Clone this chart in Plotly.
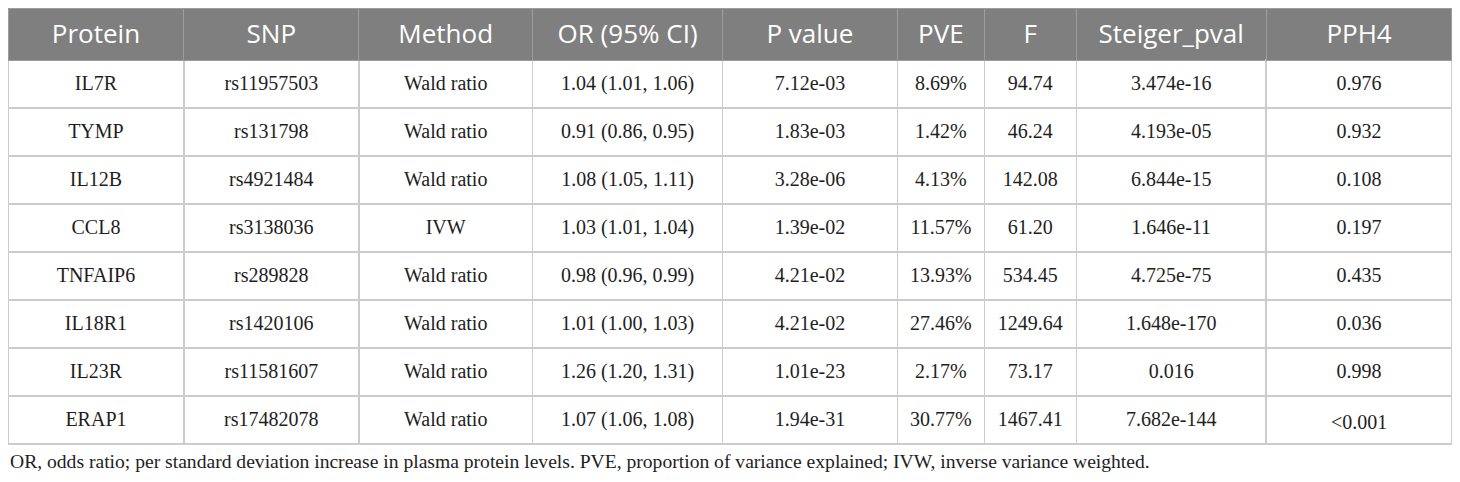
import plotly.graph_objects as go

headers = ["Protein", "SNP", "Method", "OR (95% CI)", "P value", "PVE", "F", "Steiger_pval", "PPH4"]
protein = ["IL7R", "TYMP", "IL12B", "CCL8", "TNFAIP6", "IL18R1", "IL23R", "ERAP1"]
snp = ["rs11957503", "rs131798", "rs4921484", "rs3138036", "rs289828", "rs1420106", "rs11581607", "rs17482078"]
method = ["Wald ratio", "Wald ratio", "Wald ratio", "IVW", "Wald ratio", "Wald ratio", "Wald ratio", "Wald ratio"]
or_ci = ["1.04 (1.01, 1.06)", "0.91 (0.86, 0.95)", "1.08 (1.05, 1.11)", "1.03 (1.01, 1.04)",
         "0.98 (0.96, 0.99)", "1.01 (1.00, 1.03)", "1.26 (1.20, 1.31)", "1.07 (1.06, 1.08)"]
p_value = ["7.12e-03", "1.83e-03", "3.28e-06", "1.39e-02", "4.21e-02", "4.21e-02", "1.01e-23", "1.94e-31"]
pve = ["8.69%", "1.42%", "4.13%", "11.57%", "13.93%", "27.46%", "2.17%", "30.77%"]
f_stat = ["94.74", "46.24", "142.08", "61.20", "534.45", "1249.64", "73.17", "1467.41"]
steiger = ["3.474e-16", "4.193e-05", "6.844e-15", "1.646e-11", "4.725e-75", "1.648e-170", "0.016", "7.682e-144"]
pph4 = ["0.976", "0.932", "0.108", "0.197", "0.435", "0.036", "0.998", "<0.001"]

caption = ("OR, odds ratio; per standard deviation increase in plasma protein levels. "
           "PVE, proportion of variance explained; IVW, inverse variance weighted.")

columns = [protein, snp, method, or_ci, p_value, pve, f_stat, steiger, pph4]

# page body has an 8px margin, so the figure is a bit smaller than the window
W, H = 1452, 474
OFF = 8
col_edges = [7, 183, 358, 532, 722, 897, 984, 1076, 1266, 1452]
col_widths = [b - a for a, b in zip(col_edges[:-1], col_edges[1:])]
x_dom = [max(0, col_edges[0] - OFF) / W, (col_edges[-1] - OFF) / W]
top = 7 - OFF
HEAD_H, ROW_H = 52, 48

# grid: fills and lines only
fig = go.Figure(go.Table(
    columnwidth=col_widths,
    header=dict(
        values=[""] * len(headers),
        fill_color="#7e7f7e",
        line_color="#9c9d9c",
        line_width=1,
        height=HEAD_H,
    ),
    cells=dict(
        values=[[""] * len(protein) for _ in columns],
        fill_color="white",
        line_color="#cccccc",
        line_width=1.5,
        height=ROW_H,
    ),
    domain=dict(x=x_dom, y=[0, 1 - max(0, top) / H]),
))

# text layer, nudged down so the text sits in the middle of each cell
fig.add_trace(go.Table(
    columnwidth=col_widths,
    header=dict(
        values=headers,
        fill_color="rgba(0,0,0,0)",
        line_color="rgba(0,0,0,0)",
        align="center",
        height=HEAD_H,
        font=dict(family="Open Sans", size=26, color="white"),
    ),
    cells=dict(
        values=columns,
        fill_color="rgba(0,0,0,0)",
        line_color="rgba(0,0,0,0)",
        align="center",
        height=ROW_H,
        font=dict(family="Liberation Serif", size=20, color="#1e1e1e"),
    ),
    domain=dict(x=x_dom, y=[0, 1 - (top + 8) / H]),
))

fig.add_annotation(
    text=caption, xref="paper", yref="paper", x=x_dom[0], y=1 - (461 - OFF) / H,
    xanchor="left", yanchor="middle", showarrow=False,
    font=dict(family="Liberation Serif", size=19.6, color="#1e1e1e"),
)

fig.update_layout(
    width=W, height=H,
    margin=dict(l=0, r=0, t=0, b=0),
    paper_bgcolor="white",
)

fig.write_html("out.html")
